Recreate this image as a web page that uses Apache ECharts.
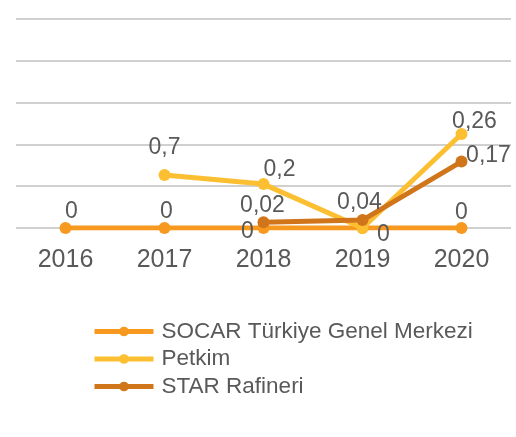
<!DOCTYPE html>
<html>
<head>
<meta charset="utf-8">
<script src="https://cdn.jsdelivr.net/npm/echarts@6/dist/echarts.min.js"></script>
<style>
  html, body { margin: 0; padding: 0; background: #fff; }
  #chart { width: 516px; height: 437px; }
</style>
</head>
<body>
<div id="chart"></div>
<script>
var years = ['2016', '2017', '2018', '2019', '2020'];

// plotted heights and the label texts shown
var socarValues = [0, 0, 0, 0, 0];
var petkimValues = [null, 1.27, 1.05, 0, 2.25];
var starValues = [null, null, 0.14, 0.19, 1.59];

var socarLabels = ['0', '0', '0', '', '0'];
var petkimLabels = ['', '0,7', '0,2', '0', '0,26'];
var starLabels = ['', '', '0,02', '0,04', '0,17'];

var seriesNames = ['SOCAR Türkiye Genel Merkezi', 'Petkim', 'STAR Rafineri'];
var colors = ['#f7981f', '#fdbf32', '#d1751b'];

// label offsets from each point
var socarOffsets = [[6, -16], [2, -16], [-16, 4], [0, 0], [0, -15]];
var petkimOffsets = [[0, 0], [0, -27], [16, -14], [21, 7], [13, -12]];
var starOffsets = [[0, 0], [0, 0], [-1, -16], [-3, -17], [27, -6]];

function buildData(values, labels, offsets) {
  return values.map(function (v, i) {
    return {
      value: v,
      label: { show: labels[i] !== '', formatter: labels[i], offset: offsets[i] }
    };
  });
}

function makeSeries(idx, values, labels, offsets, z) {
  return {
    name: seriesNames[idx],
    type: 'line',
    data: buildData(values, labels, offsets),
    symbol: 'circle',
    symbolSize: 12,
    z: z,
    lineStyle: { color: colors[idx], width: 5 },
    itemStyle: { color: colors[idx] },
    label: {
      position: 'inside',
      color: '#595959',
      fontSize: 23,
      fontFamily: 'Liberation Sans'
    }
  };
}

var myChart = echarts.init(document.getElementById('chart'));

var option = {
  animation: false,
  grid: { left: 16, right: 5, top: 19, bottom: 209 },
  legend: {
    orient: 'vertical',
    left: 87,
    top: 315,
    itemWidth: 59,
    itemHeight: 12,
    itemGap: 4.5,
    lineStyle: { width: 5 },
    textStyle: { color: '#595959', fontSize: 22.5, fontFamily: 'Liberation Sans', padding: [0, 0, 0, 3] },
    data: seriesNames
  },
  xAxis: {
    type: 'category',
    data: years,
    boundaryGap: true,
    axisLine: { show: false },
    axisTick: { show: false },
    axisLabel: { color: '#595959', fontSize: 25, fontFamily: 'Liberation Sans', margin: 20 }
  },
  yAxis: {
    type: 'value',
    min: 0,
    max: 5,
    interval: 1,
    axisLabel: { show: false },
    axisLine: { show: false },
    axisTick: { show: false },
    splitLine: { lineStyle: { color: '#d0d0d0', width: 2 } }
  },
  series: [
    makeSeries(0, socarValues, socarLabels, socarOffsets, 2),
    makeSeries(1, petkimValues, petkimLabels, petkimOffsets, 3),
    makeSeries(2, starValues, starLabels, starOffsets, 4)
  ]
};

myChart.setOption(option);
window.addEventListener('resize', function () {
  myChart.resize();
});
</script>
</body>
</html>
